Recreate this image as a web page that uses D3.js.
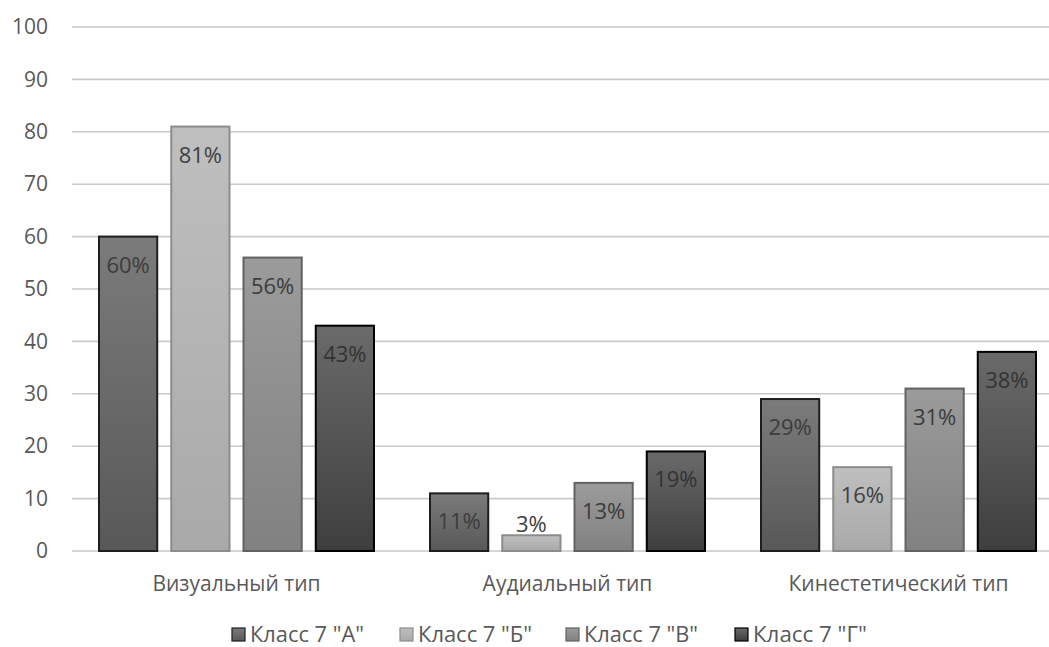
<!DOCTYPE html>
<html>
<head>
<meta charset="utf-8">
<script src="https://cdn.jsdelivr.net/npm/d3@7"></script>
<style>
  html, body { margin: 0; padding: 0; background: #fff; }
  svg { display: block; font-family: "Open Sans", "Noto Sans", sans-serif; }
</style>
</head>
<body>
<svg id="chart" width="1049" height="647"></svg>
<script>
// Learning-style types and the share of pupils per class
const categories = ["Визуальный тип", "Аудиальный тип", "Кинестетический тип"];
const seriesNames = ['Класс 7 "А"', 'Класс 7 "Б"', 'Класс 7 "В"', 'Класс 7 "Г"'];
const classA = [60, 11, 29];
const classB = [81, 3, 16];
const classC = [56, 13, 31];
const classD = [43, 19, 38];
const yTicks = [0, 10, 20, 30, 40, 50, 60, 70, 80, 90, 100];

const seriesValues = [classA, classB, classC, classD];

// Grey bar styles per class: gradient top/bottom and outline
const styles = [
  { top: "#7b7b7b", bottom: "#585858", stroke: "#1e1e1e", label: "#3c3c3c" },
  { top: "#bfbfbf", bottom: "#a9a9a9", stroke: "#8c8c8c", label: "#404040" },
  { top: "#9b9b9b", bottom: "#818181", stroke: "#626262", label: "#3c3c3c" },
  { top: "#6a6a6a", bottom: "#3e3e3e", stroke: "#000000", label: "#333333" }
];

const svg = d3.select("#chart");
const defs = svg.append("defs");
styles.forEach((s, i) => {
  const g = defs.append("linearGradient")
    .attr("id", "grad" + i).attr("x1", 0).attr("y1", 0).attr("x2", 0).attr("y2", 1);
  g.append("stop").attr("offset", "0%").attr("stop-color", s.top);
  g.append("stop").attr("offset", "100%").attr("stop-color", s.bottom);
});

const plotLeft = 71, plotRight = 1064;
const y = d3.scaleLinear().domain([0, 100]).range([551, 27]);
const x0 = d3.scaleBand().domain(categories).range([plotLeft, plotRight]);
const x1 = d3.scaleBand().domain(seriesNames).range([28, 303]).paddingInner(0.194);

// Horizontal grid lines
svg.append("g")
  .selectAll("line")
  .data(yTicks)
  .join("line")
  .attr("x1", 72).attr("x2", 1049)
  .attr("y1", d => y(d)).attr("y2", d => y(d))
  .attr("stroke", "#c9c9c9").attr("stroke-width", 1.6);

// Y axis labels
const yAxis = d3.axisLeft(y).tickValues(yTicks).tickSize(0).tickPadding(0);
const yg = svg.append("g").attr("transform", "translate(48,0)").call(yAxis);
yg.select(".domain").remove();
yg.selectAll("text")
  .attr("font-size", 21).attr("fill", "#595959")
  .attr("font-family", "'Open Sans', sans-serif");

// Bars
const groups = svg.append("g")
  .selectAll("g")
  .data(categories)
  .join("g")
  .attr("transform", d => `translate(${x0(d)},0)`);

groups.each(function(cat, ci) {
  const g = d3.select(this);
  seriesNames.forEach((name, si) => {
    const v = seriesValues[si][ci];
    const bx = x1(name), bw = x1.bandwidth();
    g.append("rect")
      .attr("x", bx).attr("y", y(v))
      .attr("width", bw).attr("height", y(0) - y(v))
      .attr("fill", `url(#grad${si})`)
      .attr("stroke", styles[si].stroke).attr("stroke-width", 2);
    const inside = (y(0) - y(v)) > 45;
    g.append("text")
      .attr("x", bx + bw / 2)
      .attr("y", inside ? y(v) + 36 : y(v) - 3)
      .attr("text-anchor", "middle")
      .attr("font-size", 22)
      .attr("fill", inside ? styles[si].label : "#404040")
      .text(v + "%");
  });
});

// Category axis labels
const xAxis = d3.axisBottom(x0).tickSize(0).tickPadding(0);
const xg = svg.append("g").attr("transform", "translate(0,591)").call(xAxis);
xg.select(".domain").remove();
xg.selectAll("text")
  .attr("font-size", 21).attr("fill", "#595959")
  .attr("font-family", "'Open Sans', sans-serif")
  .attr("dy", 0);

// Legend
const legendX = [232, 400, 566, 735];
const legend = svg.append("g");
seriesNames.forEach((name, si) => {
  const lg = legend.append("g").attr("transform", `translate(${legendX[si]},628)`);
  lg.append("rect")
    .attr("x", 0).attr("y", 0).attr("width", 13).attr("height", 13)
    .attr("fill", `url(#grad${si})`).attr("stroke", styles[si].stroke).attr("stroke-width", 1.2);
  lg.append("text")
    .attr("x", 18).attr("y", 13.5)
    .attr("font-size", 21).attr("fill", "#595959")
    .attr("textLength", 114).attr("lengthAdjust", "spacingAndGlyphs")
    .text(name);
});
</script>
</body>
</html>
